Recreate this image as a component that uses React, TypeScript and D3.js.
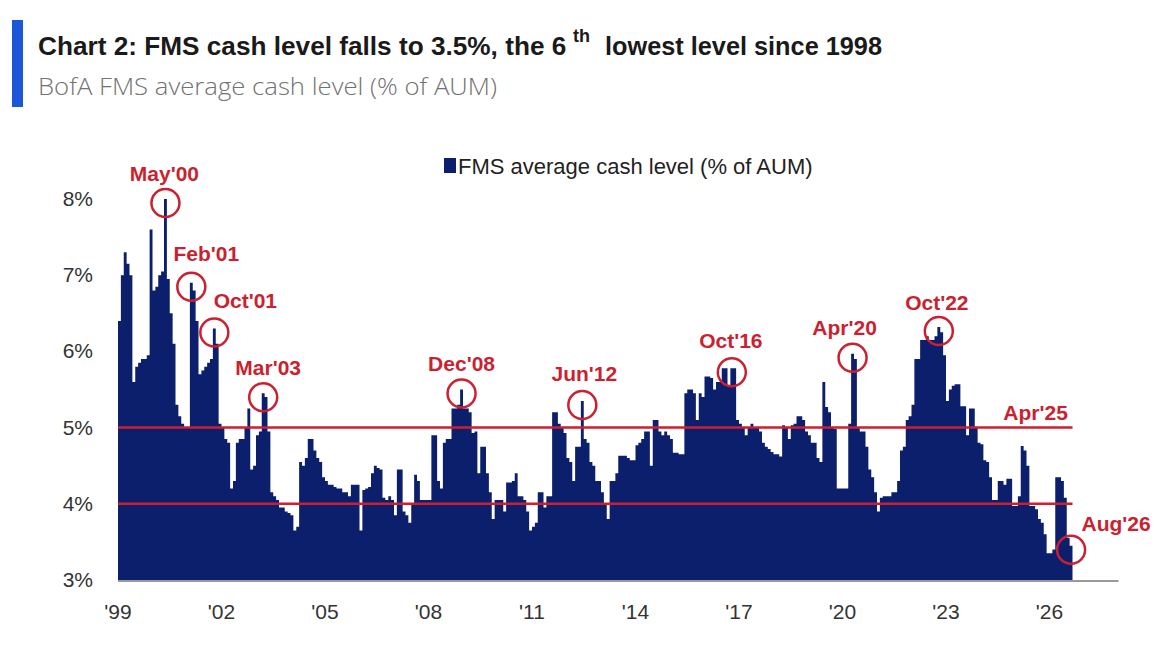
import React, { useEffect, useRef } from 'react';
import * as d3 from 'd3';

// BofA FMS average cash level (% of AUM), monthly from Jan 1999
const startYear = 1999;
const cashLevel: number[] = [
  // 1999
  6.4, 7.0, 7.3, 7.15, 7.0, 5.6, 5.8, 5.85, 5.9, 5.9, 5.95, 7.6,
  // 2000
  6.8, 6.85, 7.0, 7.05, 8.0, 6.95, 6.5, 6.1, 5.3, 5.15, 5.05, 5.0,
  // 2001
  5.0, 6.9, 6.8, 6.4, 5.7, 5.75, 5.8, 5.85, 5.9, 6.3, 6.1, 5.05,
  // 2002
  5.0, 4.85, 4.8, 4.2, 4.3, 4.8, 4.85, 4.85, 5.0, 5.25, 4.45, 4.5,
  // 2003
  4.9, 4.95, 5.45, 5.4, 4.95, 4.15, 4.1, 4.05, 3.95, 3.95, 3.9, 3.88,
  // 2004
  3.85, 3.65, 3.7, 4.55, 4.5, 4.6, 4.85, 4.85, 4.7, 4.6, 4.55, 4.35,
  // 2005
  4.3, 4.25, 4.25, 4.22, 4.2, 4.2, 4.15, 4.15, 4.1, 4.25, 4.25, 4.25,
  // 2006
  3.65, 4.18, 4.2, 4.22, 4.4, 4.5, 4.47, 4.45, 4.08, 4.05, 4.1, 4.05,
  // 2007
  3.85, 4.45, 4.45, 3.9, 3.85, 3.75, 4.0, 4.38, 4.3, 4.05, 4.05, 4.05,
  // 2008
  4.05, 4.9, 4.9, 4.3, 4.2, 4.8, 4.85, 4.85, 5.25, 5.25, 5.3, 5.5,
  // 2009
  5.25, 5.25, 5.2, 4.93, 4.95, 4.4, 4.75, 4.75, 4.4, 4.15, 3.8, 4.05,
  // 2010
  4.05, 4.05, 3.9, 4.28, 4.28, 4.3, 4.4, 4.1, 4.1, 4.05, 3.9, 3.65,
  // 2011
  3.7, 3.75, 4.15, 4.15, 3.95, 4.1, 4.1, 5.2, 5.2, 5.05, 5.0, 4.93,
  // 2012
  4.6, 4.55, 4.3, 4.75, 4.75, 5.35, 4.85, 4.8, 4.55, 4.5, 4.3, 4.3,
  // 2013
  4.15, 4.0, 3.8, 4.3, 4.3, 4.4, 4.63, 4.63, 4.63, 4.6, 4.57, 4.57,
  // 2014
  4.77, 4.8, 4.85, 4.95, 4.95, 4.5, 5.1, 5.1, 4.95, 4.9, 4.95, 4.9,
  // 2015
  4.85, 4.67, 4.67, 4.65, 4.65, 5.45, 5.5, 5.5, 5.45, 5.1, 5.45, 5.4,
  // 2016
  5.67, 5.67, 5.65, 5.5, 5.6, 5.6, 5.78, 5.78, 5.55, 5.78, 5.78, 5.1,
  // 2017
  5.05, 5.0, 4.9, 5.0, 5.05, 5.0, 5.0, 4.95, 4.8, 4.75, 4.72, 4.68,
  // 2018
  4.65, 4.65, 4.62, 5.03, 5.0, 4.85, 5.03, 5.05, 5.15, 5.15, 5.1, 4.95,
  // 2019
  4.9, 4.8, 4.8, 4.6, 4.55, 5.6, 5.27, 5.2, 5.0, 4.98, 4.2, 4.2,
  // 2020
  4.2, 4.2, 5.05, 5.97, 5.9, 5.0, 4.95, 4.95, 4.75, 4.45, 4.35, 4.15,
  // 2021
  3.9, 4.08, 4.1, 4.1, 4.1, 4.15, 4.15, 4.3, 4.7, 4.75, 5.1, 5.15,
  // 2022
  5.3, 5.9, 5.9, 6.15, 6.15, 6.2, 6.15, 6.15, 6.2, 6.32, 6.25, 5.95,
  // 2023
  5.35, 5.5, 5.55, 5.57, 5.57, 5.28, 5.28, 4.9, 5.25, 5.25, 5.0, 4.8,
  // 2024
  4.78, 4.57, 4.55, 4.35, 4.05, 4.05, 4.3, 4.3, 4.25, 4.33, 4.33, 3.97,
  // 2025
  3.97, 4.1, 4.76, 4.7, 4.5, 3.97, 3.97, 3.93, 3.8, 3.75, 3.6, 3.35,
  // 2026
  3.35, 3.4, 4.35, 4.35, 4.3, 4.08, 3.55, 3.45,
];

const yTicks = [3, 4, 5, 6, 7, 8];
const xTickYears = [1999, 2002, 2005, 2008, 2011, 2014, 2017, 2020, 2023, 2026];
const thresholds = [5, 4];

// circled peaks/troughs: label, year, month (1-12)
const calloutLabels = ["May'00", "Feb'01", "Oct'01", "Mar'03", "Dec'08", "Jun'12", "Oct'16", "Apr'20", "Oct'22", "Aug'26"];
const calloutYears = [2000, 2001, 2001, 2003, 2008, 2012, 2016, 2020, 2022, 2026];
const calloutMonths = [5, 2, 10, 3, 12, 6, 10, 4, 10, 8];
const lineLabel = { text: "Apr'25", year: 2025, month: 4, level: 5 };

const NAVY = '#0c1f6c';
const RED = '#cc1f2f';

const App: React.FC = () => {
  const svgRef = useRef<SVGSVGElement | null>(null);

  useEffect(() => {
    if (svgRef.current) drawChart();
  }, []);

  const drawChart = () => {
    const svg = d3.select(svgRef.current);
    svg.selectAll('*').remove();

    const left = 118;
    const pxPerYear = 34.5;
    const x = d3.scaleLinear()
      .domain([startYear, 2028])
      .range([left, left + (2028 - startYear) * pxPerYear]);
    const y = d3.scaleLinear().domain([3, 8]).range([580, 199]);

    const monthPos = (i: number) => startYear + i / 12;
    const lastEnd = monthPos(cashLevel.length);

    // header
    svg.append('rect').attr('x', 12).attr('y', 20).attr('width', 11).attr('height', 87).attr('fill', '#1b57d8');

    const titleFont = "'Liberation Sans', Arial, sans-serif";
    const title = svg.append('text')
      .attr('y', 55)
      .attr('font-family', titleFont).attr('font-weight', 'bold').attr('font-size', 26.2)
      .attr('fill', '#1a1a1a');
    title.append('tspan')
      .attr('x', 38)
      .text('Chart 2: FMS cash level falls to 3.5%, the 6');
    title.append('tspan')
      .attr('x', 573).attr('dy', -13)
      .attr('font-size', 18)
      .text('th');
    title.append('tspan')
      .attr('x', 605).attr('dy', 13)
      .attr('textLength', 277).attr('lengthAdjust', 'spacingAndGlyphs')
      .text('lowest level since 1998');

    svg.append('text')
      .attr('x', 38).attr('y', 95)
      .attr('font-family', "'Open Sans', sans-serif").attr('font-weight', 300).attr('font-size', 24)
      .attr('fill', '#727272')
      .attr('textLength', 459).attr('lengthAdjust', 'spacingAndGlyphs')
      .text('BofA FMS average cash level (% of AUM)');

    const chartFont = "'Liberation Sans', Arial, sans-serif";

    // monthly bars as one stepped shape (no seams between adjacent months)
    const barShape = d3.area<number>()
      .x((_, i) => x(monthPos(i)))
      .y0(y(3))
      .y1(d => y(d))
      .curve(d3.curveStepAfter);
    svg.append('path')
      .datum([...cashLevel, cashLevel[cashLevel.length - 1]])
      .attr('d', barShape)
      .attr('fill', NAVY);

    // baseline
    svg.append('line')
      .attr('x1', x(startYear)).attr('x2', x(2028))
      .attr('y1', y(3) + 1).attr('y2', y(3) + 1)
      .attr('stroke', '#9a9a9a').attr('stroke-width', 2);

    // threshold lines
    svg.append('g')
      .selectAll('line')
      .data(thresholds)
      .join('line')
      .attr('x1', x(startYear)).attr('x2', x(lastEnd))
      .attr('y1', d => y(d)).attr('y2', d => y(d))
      .attr('stroke', RED).attr('stroke-width', 2.5);

    // callouts
    const labelNudge = [
      [-1, -22], [15, -26], [31, -25], [5, -22], [0, -23],
      [2, -24], [-1, -24], [-8, -23], [-2, -21], [45, -19],
    ];
    const callouts = calloutLabels.map((label, k) => {
      const i = (calloutYears[k] - startYear) * 12 + calloutMonths[k] - 1;
      return { label, i, v: cashLevel[i], nudge: labelNudge[k] };
    });
    const cg = svg.append('g');
    callouts.forEach(c => {
      const cx = x(monthPos(c.i + 0.5));
      const cy = y(c.v) + 4;
      cg.append('circle')
        .attr('cx', cx).attr('cy', cy).attr('r', 14)
        .attr('fill', 'none').attr('stroke', RED).attr('stroke-width', 2.5);
      cg.append('text')
        .attr('x', cx + c.nudge[0]).attr('y', cy + c.nudge[1])
        .attr('text-anchor', 'middle')
        .attr('font-family', chartFont).attr('font-weight', 'bold').attr('font-size', 21)
        .attr('fill', RED)
        .text(c.label);
    });
    cg.append('text')
      .attr('x', x(monthPos((lineLabel.year - startYear) * 12 + lineLabel.month - 1)) + 12)
      .attr('y', y(lineLabel.level) - 8)
      .attr('text-anchor', 'middle')
      .attr('font-family', chartFont).attr('font-weight', 'bold').attr('font-size', 21)
      .attr('fill', RED)
      .text(lineLabel.text);

    // y axis labels
    svg.append('g')
      .selectAll('text')
      .data(yTicks)
      .join('text')
      .attr('x', 93)
      .attr('y', d => y(d) + 7)
      .attr('text-anchor', 'end')
      .attr('font-family', chartFont).attr('font-size', 21)
      .attr('fill', '#333')
      .text(d => `${d}%`);

    // x axis labels
    svg.append('g')
      .selectAll('text')
      .data(xTickYears)
      .join('text')
      .attr('x', d => x(d))
      .attr('y', 619)
      .attr('text-anchor', 'middle')
      .attr('font-family', chartFont).attr('font-size', 21)
      .attr('fill', '#333')
      .text(d => `'${String(d).slice(2)}`);

    // legend
    svg.append('rect').attr('x', 444).attr('y', 158).attr('width', 12).attr('height', 15).attr('fill', NAVY);
    svg.append('text')
      .attr('x', 458).attr('y', 174)
      .attr('font-family', chartFont).attr('font-size', 22)
      .attr('fill', '#222')
      .text('FMS average cash level (% of AUM)');
  };

  return (
    <svg
      ref={svgRef}
      width={1164}
      height={645}
      style={{ position: 'absolute', left: 0, top: 0, background: '#fff' }}
    />
  );
};

export default App;
